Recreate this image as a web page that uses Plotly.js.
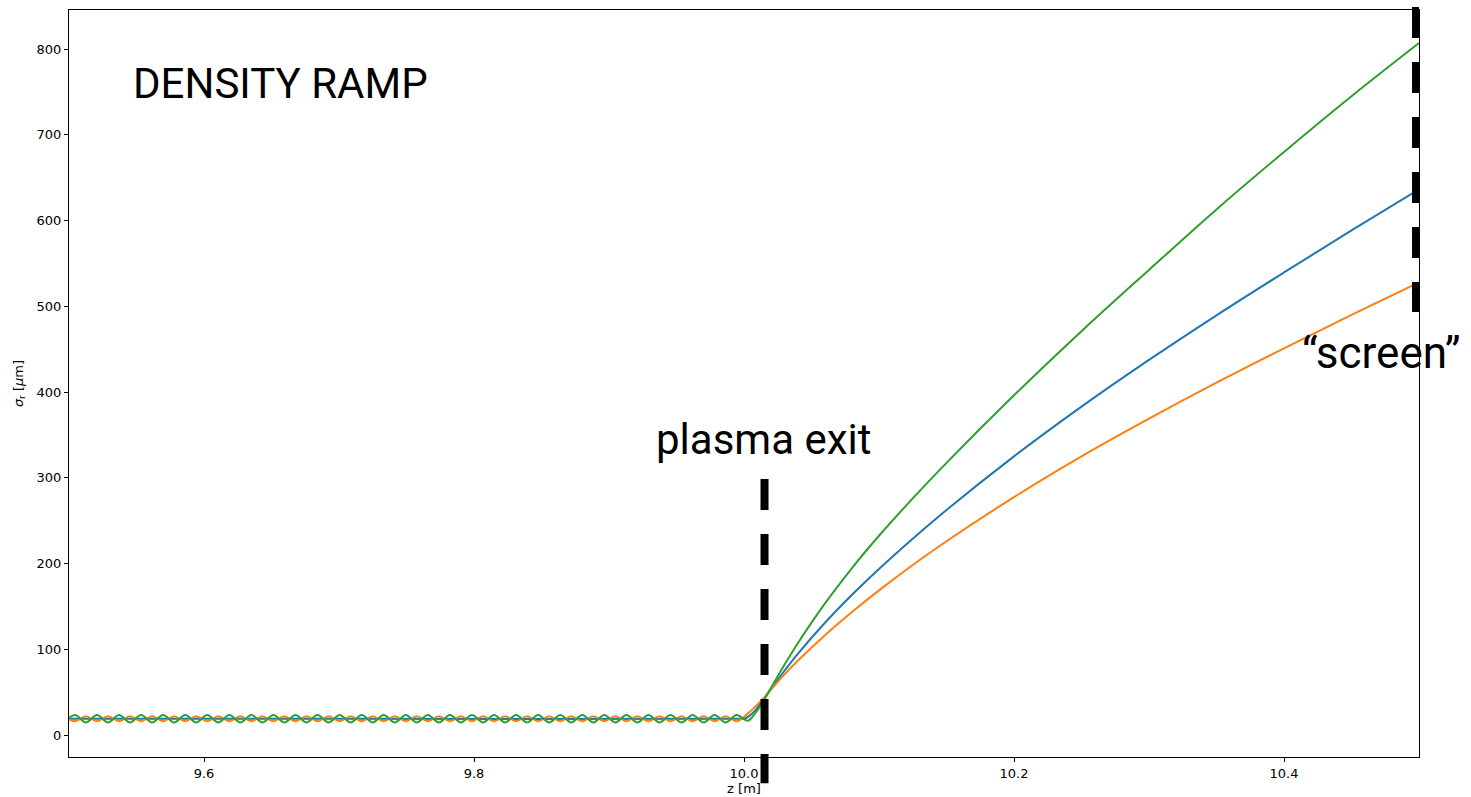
<!DOCTYPE html>
<html>
<head>
<meta charset="utf-8">
<script src="https://cdn.plot.ly/plotly-3.0.1.min.js"></script>
<style>html,body{margin:0;padding:0;background:#fff;}#chart{width:1471px;height:797px;}</style>
</head>
<body>
<div id="chart"></div>
<script>
// z positions of the betatron oscillation extrema inside the plasma [m]
const zOsc = [
  9.4962, 9.5044, 9.5125, 9.5207, 9.5289, 9.5371, 9.5452, 9.5534, 9.5616, 9.5697,
  9.5779, 9.5861, 9.5942, 9.6024, 9.6106, 9.6188, 9.6269, 9.6351, 9.6433, 9.6514,
  9.6596, 9.6678, 9.6759, 9.6841, 9.6923, 9.7005, 9.7086, 9.7168, 9.7250, 9.7331,
  9.7413, 9.7495, 9.7576, 9.7658, 9.7740, 9.7822, 9.7903, 9.7985, 9.8067, 9.8148,
  9.8230, 9.8312, 9.8393, 9.8475, 9.8557, 9.8639, 9.8720, 9.8802, 9.8884, 9.8965,
  9.9047, 9.9129, 9.9210, 9.9292, 9.9374, 9.9456, 9.9537, 9.9619, 9.9701, 9.9782,
  9.9864, 9.9946
];
const greenOsc = [
  14.7, 23.3, 14.7, 23.3, 14.7, 23.3, 14.7, 23.3, 14.7, 23.3,
  14.7, 23.3, 14.7, 23.3, 14.7, 23.3, 14.7, 23.3, 14.7, 23.3,
  14.7, 23.3, 14.7, 23.3, 14.7, 23.3, 14.7, 23.3, 14.7, 23.3,
  14.7, 23.3, 14.7, 23.3, 14.7, 23.3, 14.7, 23.3, 14.7, 23.3,
  14.7, 23.3, 14.7, 23.3, 14.7, 23.3, 14.7, 23.3, 14.7, 23.3,
  14.7, 23.3, 14.7, 23.3, 14.7, 23.3, 14.7, 23.3, 14.7, 23.3,
  14.7, 23.3
];
const orangeOsc = [
  21.9, 16.1, 21.9, 16.1, 21.9, 16.1, 21.9, 16.1, 21.9, 16.1,
  21.9, 16.1, 21.9, 16.1, 21.9, 16.1, 21.9, 16.1, 21.9, 16.1,
  21.9, 16.1, 21.9, 16.1, 21.9, 16.1, 21.9, 16.1, 21.9, 16.1,
  21.9, 16.1, 21.9, 16.1, 21.9, 16.1, 21.9, 16.1, 21.9, 16.1,
  21.9, 16.1, 21.9, 16.1, 21.9, 16.1, 21.9, 16.1, 21.9, 16.1,
  21.9, 16.1, 21.9, 16.1, 21.9, 16.1, 21.9, 16.1, 21.9, 16.1,
  21.9, 16.1
];
// after plasma exit (density ramp + drift to the screen)
const zTail = [10.0027, 10.009, 10.0168, 10.02, 10.03, 10.04, 10.06, 10.08, 10.1, 10.125, 10.15, 10.2, 10.25, 10.3, 10.35, 10.4, 10.45, 10.5];
const greenTail  = [16.8, 27, 46, 55, 82, 107.4, 153.5, 194.8, 232.4, 276, 317.4, 396.2, 471, 542.5, 613, 680, 745, 807];
const orangeTail = [25, 34, 47, 53, 70.8, 87, 116.5, 143.5, 168.7, 198.3, 226, 277.5, 325, 369, 411, 451, 490, 528];
const zBlue = [9.4962, 9.7, 9.9946, 10.0, 10.0027, 10.009, 10.0168, 10.02, 10.03, 10.04, 10.06, 10.08, 10.1, 10.125, 10.15, 10.2, 10.25, 10.3, 10.35, 10.4, 10.45, 10.5];
const blue  = [19.0, 19.0, 19.0, 19.3, 21, 30, 47, 54, 75, 95, 131, 163.6, 193.7, 229, 262.5, 325, 383, 437.5, 489.5, 539.5, 588.5, 636.5];

const xTickVals = [9.6, 9.8, 10.0, 10.2, 10.4];
const xTickText = ['9.6', '9.8', '10.0', '10.2', '10.4'];
const yTickVals = [0, 100, 200, 300, 400, 500, 600, 700, 800];

const plasmaExitZ = 10.0152;
const screenZ = 10.4978;

const C_BLUE = '#1f77b4', C_ORANGE = '#ff7f0e', C_GREEN = '#2ca02c';
const tickFont = {family: 'DejaVu Sans', size: 13, color: '#000'};
const bigFont = {family: 'Roboto', size: 42, color: '#000'};

const traces = [
  {x: zBlue, y: blue, mode: 'lines', line: {color: C_BLUE, width: 2, shape: 'spline', smoothing: 1}, showlegend: false, hoverinfo: 'skip'},
  {x: zOsc.concat(zTail), y: orangeOsc.concat(orangeTail), mode: 'lines', line: {color: C_ORANGE, width: 2, shape: 'spline', smoothing: 1}, showlegend: false, hoverinfo: 'skip'},
  {x: zOsc.concat(zTail), y: greenOsc.concat(greenTail), mode: 'lines', line: {color: C_GREEN, width: 2, shape: 'spline', smoothing: 1}, showlegend: false, hoverinfo: 'skip'}
];

const layout = {
  width: 1471, height: 797,
  margin: {l: 69, r: 52, t: 10, b: 40, pad: 0},
  paper_bgcolor: '#fff', plot_bgcolor: '#fff',
  showlegend: false,
  xaxis: {
    range: [9.5, 10.5], tickvals: xTickVals, ticktext: xTickText,
    showgrid: false, zeroline: false, showline: true, mirror: true,
    linecolor: '#000', linewidth: 1, ticks: 'outside', ticklen: 4, tickwidth: 1, tickcolor: '#000',
    tickfont: tickFont,
    title: {text: 'z [m]', font: tickFont, standoff: 2}
  },
  yaxis: {
    range: [-25.6, 845.6], tickvals: yTickVals,
    showgrid: false, zeroline: false, showline: true, mirror: true,
    linecolor: '#000', linewidth: 1, ticks: 'outside', ticklen: 4, tickwidth: 1, tickcolor: '#000',
    tickfont: tickFont,
    title: {text: '<i>σ</i><sub>r</sub> [<i>μ</i>m]', font: tickFont, standoff: 10}
  },
  shapes: [
    {type: 'line', xref: 'x', yref: 'paper', x0: plasmaExitZ, x1: plasmaExitZ, y0: 0.372, y1: -0.035,
     line: {color: '#000', width: 8, dash: '31px,24px'}},
    {type: 'line', xref: 'x', yref: 'paper', x0: screenZ, x1: screenZ, y0: 1.004, y1: 0.5957,
     line: {color: '#000', width: 8, dash: '31px,24px'}}
  ],
  annotations: [
    {text: 'DENSITY RAMP', xref: 'x', yref: 'y', x: 9.546, y: 760, xanchor: 'left', yanchor: 'middle', showarrow: false, font: bigFont},
    {text: 'plasma exit', xref: 'x', yref: 'y', x: 10.0141, y: 345, xanchor: 'center', yanchor: 'middle', showarrow: false, font: bigFont},
    {text: '\u201Cscreen\u201D', xref: 'x', yref: 'y', x: 10.4725, y: 445, xanchor: 'center', yanchor: 'middle', showarrow: false,
     font: {family: 'Roboto', size: 44, color: '#000'}}
  ]
};

Plotly.newPlot('chart', traces, layout, {staticPlot: true, displayModeBar: false});
</script>
</body>
</html>
